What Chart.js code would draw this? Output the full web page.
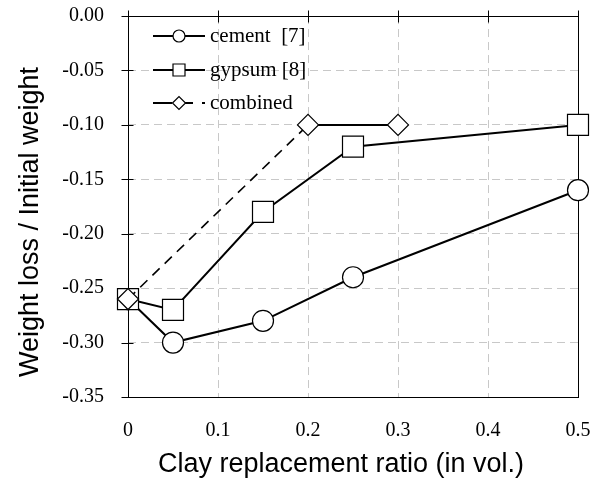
<!DOCTYPE html>
<html><head><meta charset="utf-8">
<script src="https://cdn.jsdelivr.net/npm/chart.js@4"></script>
<style>html,body{margin:0;padding:0;background:#fff;overflow:hidden;}canvas{display:block;}</style>
</head><body>
<canvas id="c" width="601" height="479"></canvas>
<script>
const xTicks = [0, 0.1, 0.2, 0.3, 0.4, 0.5];
const yTicks = [0, -0.05, -0.10, -0.15, -0.20, -0.25, -0.30, -0.35];
const cementX = [0, 0.05, 0.15, 0.25, 0.5];
const cementY = [-0.26, -0.30, -0.28, -0.24, -0.16];
const gypsumX = [0, 0.05, 0.15, 0.25, 0.5];
const gypsumY = [-0.26, -0.27, -0.18, -0.12, -0.10];
const combinedX = [0, 0.2, 0.3];
const combinedY = [-0.26, -0.10, -0.10];
const seriesLabels = ['cement  [7]', 'gypsum [8]', 'combined'];
const xTitle = 'Clay replacement ratio (in vol.)';
const yTitle = 'Weight loss / Initial weight';

const pts = (xs, ys) => xs.map((x, i) => ({x: x, y: ys[i]}));
const SERIF = '"Liberation Serif", "Times New Roman", serif';
const SANS = '"Liberation Sans", Arial, sans-serif';

const framePlugin = {
  id: 'frame',
  beforeDatasetsDraw(chart) {
    const {ctx, chartArea: a, scales} = chart;
    ctx.save();
    ctx.strokeStyle = '#000';
    ctx.lineWidth = 1;
    const L = Math.round(a.left) + 0.5, R = Math.round(a.right) + 0.5;
    const T = Math.round(a.top) + 0.5, B = Math.round(a.bottom) + 0.5;
    ctx.strokeRect(L, T, R - L, B - T);
    ctx.beginPath();
    yTicks.forEach(v => {
      const y = Math.round(scales.y.getPixelForValue(v)) + 0.5;
      ctx.moveTo(L - 7, y); ctx.lineTo(L + 5, y);
    });
    xTicks.forEach(v => {
      const x = Math.round(scales.x.getPixelForValue(v)) + 0.5;
      ctx.moveTo(x, T - 6); ctx.lineTo(x, T + 6);
    });
    ctx.stroke();
    ctx.restore();
  }
};

const titlePlugin = {
  id: 'axisTitles',
  afterDraw(chart) {
    const {ctx} = chart;
    ctx.save();
    ctx.fillStyle = '#000';
    ctx.font = '27px ' + SANS;
    ctx.textAlign = 'center';
    ctx.textBaseline = 'alphabetic';
    ctx.fillText(xTitle, 341, 472);
    ctx.translate(37.5, 222);
    ctx.rotate(-Math.PI / 2);
    ctx.fillText(yTitle, 0, 0);
    ctx.restore();
  }
};

function marker(ctx, style, x, y, r) {
  ctx.beginPath();
  if (style === 'circle') {
    ctx.arc(x, y, r, 0, Math.PI * 2);
  } else if (style === 'rect') {
    ctx.rect(x - r, y - r, 2 * r, 2 * r);
  } else {
    ctx.moveTo(x - r, y); ctx.lineTo(x, y - r); ctx.lineTo(x + r, y); ctx.lineTo(x, y + r); ctx.closePath();
  }
  ctx.fillStyle = '#fff';
  ctx.fill();
  ctx.lineWidth = 1.2;
  ctx.strokeStyle = '#000';
  ctx.stroke();
}

const legendPlugin = {
  id: 'customLegend',
  afterDatasetsDraw(chart) {
    const {ctx} = chart;
    const rows = [36, 70, 103];
    const styles = ['circle', 'rect', 'diamond'];
    const sizes = [6, 6, 6.5];
    ctx.save();
    chart.data.datasets.forEach((ds, i) => {
      const y = rows[i];
      ctx.strokeStyle = '#000';
      ctx.lineWidth = 2.2;
      ctx.beginPath();
      if (i < 2) {
        ctx.moveTo(153, y); ctx.lineTo(205, y);
      } else {
        ctx.moveTo(153, y); ctx.lineTo(172, y);
        ctx.moveTo(185, y); ctx.lineTo(193, y);
        ctx.moveTo(202, y); ctx.lineTo(205, y);
      }
      ctx.stroke();
      marker(ctx, styles[i], 179, y, sizes[i]);
      ctx.fillStyle = '#000';
      ctx.font = '21px ' + SERIF;
      ctx.textBaseline = 'middle';
      ctx.textAlign = 'left';
      ctx.fillText(ds.label, 210, y);
    });
    ctx.restore();
  }
};

const gridColor = (edges) => (c) => (c.tick && edges.includes(c.tick.value)) ? 'rgba(0,0,0,0)' : '#c8c8c8';
const noPad = s => { s.paddingLeft = 0; s.paddingRight = 0; s.paddingTop = 0; s.paddingBottom = 0; };

new Chart(document.getElementById('c'), {
  type: 'scatter',
  data: {
    datasets: [
      {
        label: seriesLabels[0], data: pts(cementX, cementY), showLine: true,
        borderColor: '#000', borderWidth: 2, backgroundColor: '#fff',
        pointStyle: 'circle', pointRadius: 10.5, pointBorderWidth: 1.2,
        pointBackgroundColor: '#fff', pointBorderColor: '#000', clip: false, order: 3
      },
      {
        label: seriesLabels[1], data: pts(gypsumX, gypsumY), showLine: true,
        borderColor: '#000', borderWidth: 2, backgroundColor: '#fff',
        pointStyle: 'rect', pointRadius: 14.85, pointBorderWidth: 1.2,
        pointBackgroundColor: '#fff', pointBorderColor: '#000', clip: false, order: 2
      },
      {
        label: seriesLabels[2], data: pts(combinedX, combinedY), showLine: true,
        borderColor: '#000', borderWidth: 2, backgroundColor: '#fff',
        pointStyle: 'rectRot', pointRadius: 10.5, pointBorderWidth: 1.2,
        pointBackgroundColor: '#fff', pointBorderColor: '#000', clip: false, order: 1,
        segment: { borderDash: c => c.p0DataIndex === 0 ? [10, 7] : undefined, borderWidth: c => c.p0DataIndex === 0 ? 1.6 : 2 }
      }
    ]
  },
  options: {
    responsive: false,
    devicePixelRatio: 1,
    animation: false,
    layout: { padding: { left: 0, right: 23, top: 14, bottom: 0 } },
    plugins: { legend: { display: false }, tooltip: { enabled: false } },
    scales: {
      x: {
        type: 'linear', min: 0, max: 0.5,
        afterBuildTicks: s => { s.ticks = xTicks.map(v => ({value: v})); },
        afterFit: s => { s.height = 82; noPad(s); },
        ticks: {
          padding: 22, color: '#000', maxRotation: 0, autoSkip: false,
          font: { family: SERIF, size: 20 },
          callback: v => v === 0 ? '0' : Number(v).toFixed(1)
        },
        grid: { color: gridColor([0, 0.5]), lineWidth: 1, drawTicks: false },
        border: { display: false, dash: [8, 5] },
        title: { display: false, text: xTitle }
      },
      y: {
        type: 'linear', min: -0.35, max: 0,
        afterBuildTicks: s => { s.ticks = yTicks.map(v => ({value: v})); },
        afterFit: s => { s.width = 128; noPad(s); },
        ticks: {
          padding: 24, color: '#000', autoSkip: false,
          font: { family: SERIF, size: 20 },
          callback: v => Number(v).toFixed(2).replace(/^-0\.00$/, '0.00')
        },
        grid: { color: gridColor([0, -0.35]), lineWidth: 1, drawTicks: false },
        border: { display: false, dash: [8, 5] },
        title: { display: false, text: yTitle }
      }
    }
  },
  plugins: [framePlugin, legendPlugin, titlePlugin]
});
</script>
</body></html>
